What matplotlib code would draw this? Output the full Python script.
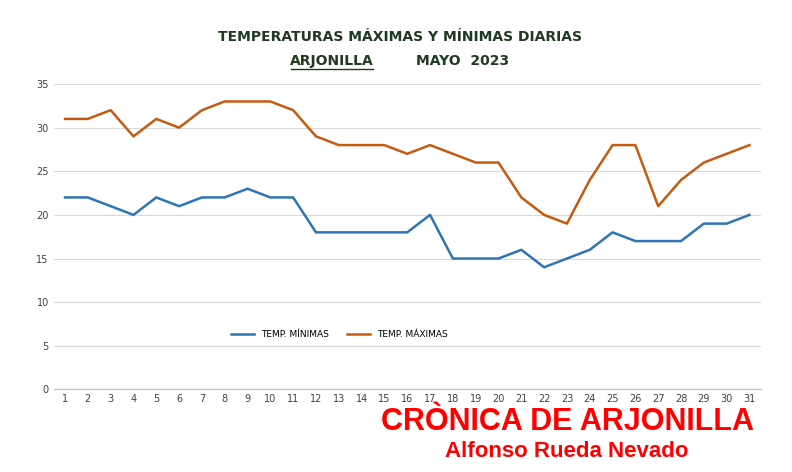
import matplotlib
matplotlib.use("Agg")
import matplotlib.pyplot as plt

days = list(range(1, 32))
t_max = [31,31,32,29,31,30,32,33,33,33,32,29,28,28,28,27,28,27,26,26,22,20,19,24,28,28,21,24,26,27,28]
t_min = [22,22,21,20,22,21,22,22,23,22,22,18,18,18,18,18,20,15,15,15,16,14,15,16,18,17,17,17,19,19,20]

fig = plt.figure(figsize=(7.92, 4.72), dpi=100)
ax = fig.add_axes([0.0677, 0.175, 0.893, 0.647])
ax.plot(days, t_min, color="#2E75B6", lw=1.8, label="TEMP. MÍNIMAS")
ax.plot(days, t_max, color="#C55A11", lw=1.8, label="TEMP. MÁXIMAS")
ax.set_xlim(0.5, 31.5)
ax.set_ylim(0, 35)
ax.set_yticks(range(0, 36, 5))
ax.set_xticks(days)
ax.tick_params(labelsize=7, length=0, colors="#404040")
ax.grid(axis="y", color="#d9d9d9", lw=0.8)
for s in ["top", "right", "left"]:
    ax.spines[s].set_visible(False)
ax.spines["bottom"].set_color("#bfbfbf")
ax.legend(loc="center left", bbox_to_anchor=(0.24, 0.18), ncol=2, frameon=False, fontsize=6.5, handlelength=2.5)

col = "#1f3a1f"
fig.text(0.505, 0.913, "TEMPERATURAS MÁXIMAS Y MÍNIMAS DIARIAS", ha="center", fontsize=10, fontweight="bold", color=col)
fig.text(0.419, 0.862, "ARJONILLA", ha="center", fontsize=10, fontweight="bold", color=col)
fig.add_artist(plt.Line2D([0.368, 0.471], [0.853, 0.853], color=col, lw=1))
fig.text(0.584, 0.862, "MAYO  2023", ha="center", fontsize=10, fontweight="bold", color=col)
fig.text(0.716, 0.088, "CRÒNICA DE ARJONILLA", ha="center", fontsize=22, fontweight="bold", color="#ff0000", family="Liberation Sans")
fig.text(0.716, 0.032, "Alfonso Rueda Nevado", ha="center", fontsize=16, fontweight="bold", color="#ff0000", family="Liberation Sans")
fig.savefig("out.png", dpi=100)
